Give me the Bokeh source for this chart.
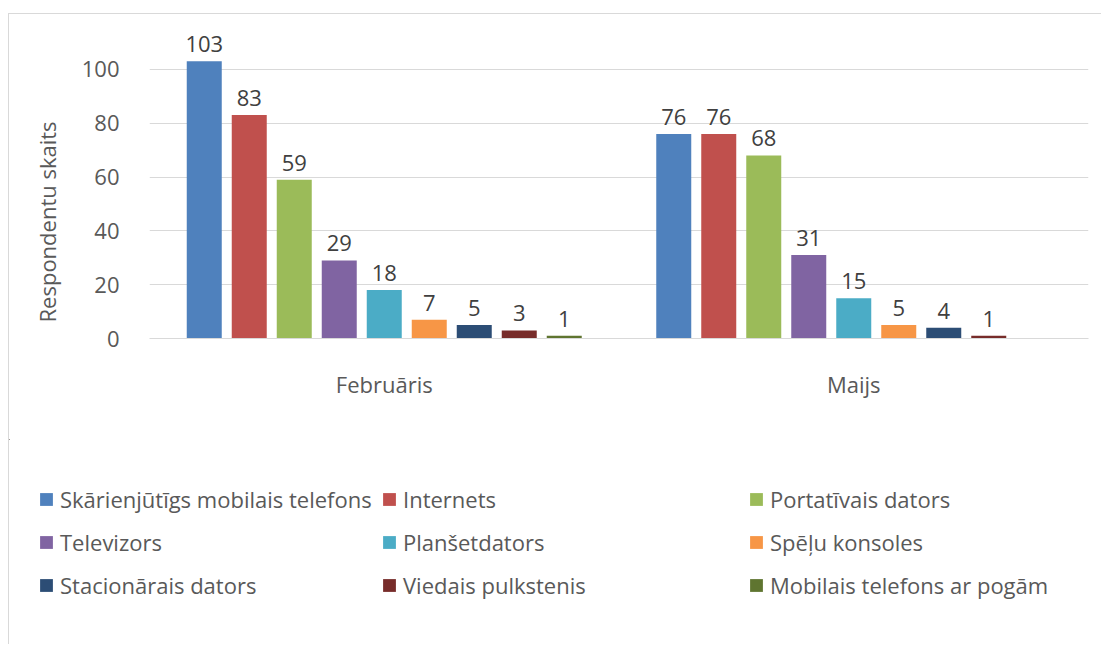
from bokeh.plotting import figure
from bokeh.models import ColumnDataSource, Legend, LegendItem, FixedTicker, Range1d, Title
from bokeh.layouts import column
from bokeh.embed import file_html
from bokeh.resources import INLINE
from bokeh.core.properties import value
import math

groups = ["Februāris", "Maijs"]
series = ["Skārienjūtīgs mobilais telefons", "Internets", "Portatīvais dators",
          "Televizors", "Planšetdators", "Spēļu konsoles",
          "Stacionārais dators", "Viedais pulkstenis", "Mobilais telefons ar pogām"]
feb = [103, 83, 59, 29, 18, 7, 5, 3, 1]
maij = [76, 76, 68, 31, 15, 5, 4, 1, float("nan")]
colors = ["#4F81BD", "#C0504D", "#9BBB59", "#8064A2", "#4BACC6",
          "#F79646", "#2C4D75", "#772C2A", "#5F7530"]
y_ticks = [0, 20, 40, 60, 80, 100]
y_title = "Respondentu skaits"

FONT = "Open Sans"
FS = "22px"
GREY = "#595959"

p = figure(width=1093, height=425, x_range=Range1d(0, 2), y_range=Range1d(0, 120),
           output_backend="svg", toolbar_location=None,
           min_border_left=140, min_border_right=14, min_border_top=1, min_border_bottom=101)
p.outline_line_color = None
p.background_fill_color = "white"

# legend-only figure below the chart (its bars fall far outside its own ranges)
p2 = figure(width=1093, height=205, x_range=Range1d(100, 101), y_range=Range1d(-1000, -999),
            output_backend="svg", toolbar_location=None,
            min_border_left=0, min_border_right=0, min_border_top=0, min_border_bottom=0)
p2.frame_align = False
p2.outline_line_color = None
p2.axis.visible = False
p2.grid.visible = False

step = 45 / 469.5
bw = 35 / 469.5
n = len(series)
items = []
lx, ly, lt = [], [], []
for i in range(n):
    xs, tops = [], []
    for g, vals in enumerate([feb, maij]):
        v = vals[i]
        if v is None or (isinstance(v, float) and math.isnan(v)):
            continue
        x = g + 0.5 + (i - (n - 1) / 2) * step
        xs.append(x)
        tops.append(v)
        lx.append(x)
        ly.append(v)
        lt.append(str(v))
    src = ColumnDataSource(dict(x=xs, top=tops))
    p.vbar(x="x", top="top", width=bw, source=src, fill_color=colors[i], line_color=None)
    r2 = p2.vbar(x="x", top="top", width=bw, source=src, fill_color=colors[i], line_color=None)
    items.append(LegendItem(label=series[i], renderers=[r2]))

lsrc = ColumnDataSource(dict(x=lx, y=ly, t=lt))
p.text(x="x", y="y", text="t", source=lsrc, text_align="center", text_baseline="alphabetic",
       y_offset=-17, text_font=value(FONT), text_font_size=FS, text_color="#404040")

p.xgrid.visible = False
p.ygrid.ticker = FixedTicker(ticks=y_ticks)
p.ygrid.grid_line_color = "#d9d9d9"

xa = p.xaxis[0]
xa.ticker = FixedTicker(ticks=[0.5, 1.5])
xa.major_label_overrides = {0.5: groups[0], 1.5: groups[1]}
xa.axis_line_color = "#d9d9d9"
xa.major_tick_line_color = None
xa.minor_tick_line_color = None
xa.major_label_text_font = FONT
xa.major_label_text_font_size = FS
xa.major_label_text_color = GREY
xa.major_label_standoff = 24

ya = p.yaxis[0]
ya.ticker = FixedTicker(ticks=y_ticks)
ya.axis_line_color = None
ya.major_tick_line_color = None
ya.minor_tick_line_color = None
ya.major_label_text_font = FONT
ya.major_label_text_font_size = FS
ya.major_label_text_color = GREY
ya.major_label_standoff = 24

t = Title(text=y_title, align="left", text_font=FONT, text_font_size=FS,
          text_font_style="normal", text_color=GREY, offset=16, standoff=33)
p.add_layout(t, "left")

# three legend columns (Excel-like layout: row-major order of the series)
col_x = [29, 372, 739]
for c in range(3):
    leg = Legend(items=[items[c], items[c + 3], items[c + 6]], location=(col_x[c], 44),
                 orientation="vertical",
                 label_text_font=FONT, label_text_font_size=FS, label_text_color=GREY,
                 glyph_width=16, glyph_height=16, label_standoff=6, spacing=13,
                 padding=0, margin=0, border_line_color=None, background_fill_alpha=0)
    p2.add_layout(leg, "center")

layout = column(p, p2, margin=(13, 0, 0, 8), spacing=0,
                styles={"border-left": "1px solid #d9d9d9", "border-top": "1px solid #d9d9d9"})

open("out.html", "w").write(file_html(layout, INLINE))
